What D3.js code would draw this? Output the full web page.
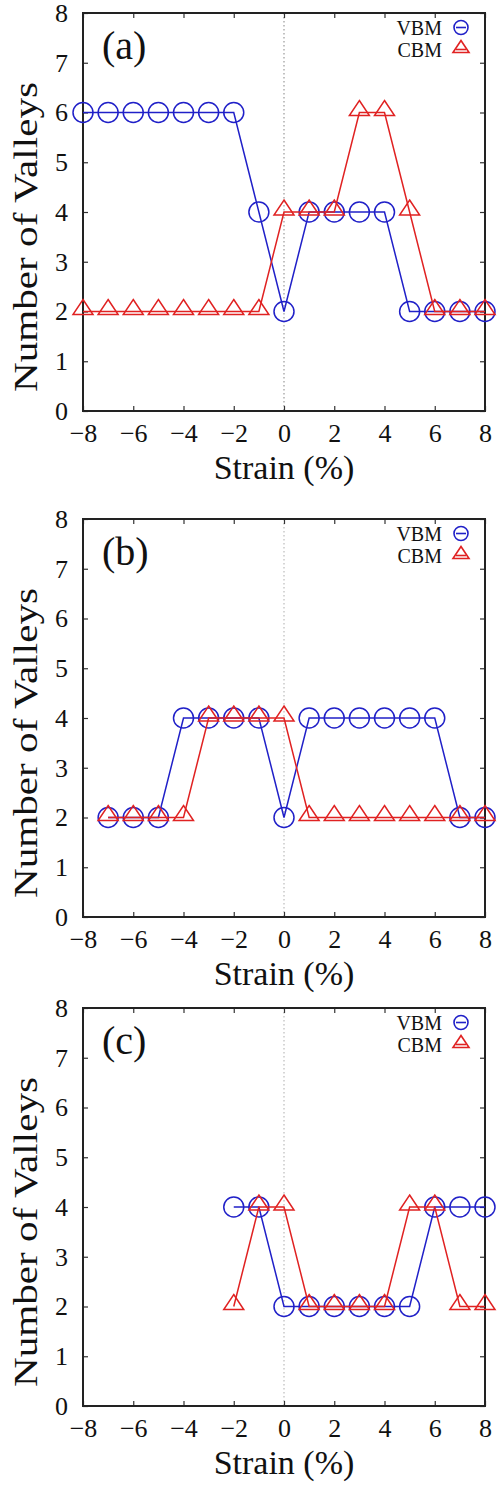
<!DOCTYPE html>
<html>
<head>
<meta charset="utf-8">
<script src="https://cdn.jsdelivr.net/npm/d3@7"></script>
<style>
  body { margin: 0; background: #fff; }
  svg text { fill: #111; }
</style>
</head>
<body>
<svg id="chart" width="498" height="1489"></svg>
<script>
// strain values (%) and number of valleys for each panel
const strainA = [-8, -7, -6, -5, -4, -3, -2, -1, 0, 1, 2, 3, 4, 5, 6, 7, 8];
const vbmA = [6, 6, 6, 6, 6, 6, 6, 4, 2, 4, 4, 4, 4, 2, 2, 2, 2];
const cbmA = [2, 2, 2, 2, 2, 2, 2, 2, 4, 4, 4, 6, 6, 4, 2, 2, 2];

const strainB = [-7, -6, -5, -4, -3, -2, -1, 0, 1, 2, 3, 4, 5, 6, 7, 8];
const vbmB = [2, 2, 2, 4, 4, 4, 4, 2, 4, 4, 4, 4, 4, 4, 2, 2];
const cbmB = [2, 2, 2, 2, 4, 4, 4, 4, 2, 2, 2, 2, 2, 2, 2, 2];

const strainC = [-2, -1, 0, 1, 2, 3, 4, 5, 6, 7, 8];
const vbmC = [4, 4, 2, 2, 2, 2, 2, 2, 4, 4, 4];
const cbmC = [2, 4, 4, 2, 2, 2, 2, 4, 4, 2, 2];

const xTicks = [-8, -6, -4, -2, 0, 2, 4, 6, 8];
const yTicks = [0, 1, 2, 3, 4, 5, 6, 7, 8];
const panelLabels = ["(a)", "(b)", "(c)"];
const seriesNames = ["VBM", "CBM"];

const blue = "#2020c8";
const red = "#e02222";
const serif = "Tinos, 'Liberation Serif', 'Times New Roman', serif";

const svg = d3.select("#chart");

const left = 83, right = 485;
const panelTops = [13, 519, 1008];
const panelH = 398;

const panels = [
  { x: strainA, vbm: vbmA, cbm: cbmA },
  { x: strainB, vbm: vbmB, cbm: cbmB },
  { x: strainC, vbm: vbmC, cbm: cbmC }
];

const x = d3.scaleLinear().domain([-8, 8]).range([left, right]);

// triangle a bit higher than the point, like gnuplot's point type
const triPath = (s) => `M0,${-s}L${s},${s * 0.5}L${-s},${s * 0.5}Z`;

panels.forEach((p, i) => {
  const top = panelTops[i];
  const bottom = top + panelH;
  const y = d3.scaleLinear().domain([0, 8]).range([bottom, top]);
  const g = svg.append("g");

  // dotted line at zero strain
  g.append("line")
    .attr("x1", x(0)).attr("x2", x(0))
    .attr("y1", top).attr("y2", bottom)
    .attr("stroke", i === 0 ? "#999" : "#bbb")
    .attr("stroke-width", 1.2)
    .attr("stroke-dasharray", "1.5,2.5");

  // axes with inward ticks
  const bottomAxis = g.append("g")
    .attr("transform", `translate(0,${bottom})`)
    .call(d3.axisBottom(x).tickValues(xTicks).tickSize(-5).tickPadding(12.5));
  const topAxis = g.append("g")
    .attr("transform", `translate(0,${top})`)
    .call(d3.axisTop(x).tickValues(xTicks).tickSize(-5).tickFormat(""));
  const leftAxis = g.append("g")
    .attr("transform", `translate(${left},0)`)
    .call(d3.axisLeft(y).tickValues(yTicks).tickSize(-5).tickPadding(15));
  const rightAxis = g.append("g")
    .attr("transform", `translate(${right},0)`)
    .call(d3.axisRight(y).tickValues(yTicks).tickSize(-5).tickFormat(""));

  [bottomAxis, topAxis, leftAxis, rightAxis].forEach(a => {
    a.select(".domain").remove();
    a.selectAll("line").attr("stroke", "#333").attr("stroke-width", 1.2);
    a.selectAll("text")
      .style("font-family", serif)
      .style("font-size", "26px")
      .attr("fill", "#111");
  });

  // frame
  g.append("rect")
    .attr("x", left).attr("y", top)
    .attr("width", right - left).attr("height", panelH)
    .attr("fill", "none")
    .attr("stroke", "#222")
    .attr("stroke-width", 2);

  // series
  const line = d3.line().x(d => x(d[0])).y(d => y(d[1]));
  const vbmPts = p.x.map((v, k) => [v, p.vbm[k]]);
  const cbmPts = p.x.map((v, k) => [v, p.cbm[k]]);

  g.append("path").datum(vbmPts)
    .attr("d", line).attr("fill", "none")
    .attr("stroke", blue).attr("stroke-width", 1.5);
  g.selectAll("circle.vbm").data(vbmPts).enter().append("circle")
    .attr("class", "vbm")
    .attr("cx", d => x(d[0])).attr("cy", d => y(d[1]))
    .attr("r", 10)
    .attr("fill", "none").attr("stroke", blue).attr("stroke-width", 1.5);

  g.append("path").datum(cbmPts)
    .attr("d", line).attr("fill", "none")
    .attr("stroke", red).attr("stroke-width", 1.5);
  g.selectAll("path.cbm").data(cbmPts).enter().append("path")
    .attr("class", "cbm")
    .attr("transform", d => `translate(${x(d[0])},${y(d[1]) - 2})`)
    .attr("d", triPath(10))
    .attr("fill", "none").attr("stroke", red).attr("stroke-width", 1.5);

  // panel label
  g.append("text")
    .attr("x", left + 19).attr("y", top + 46)
    .style("font-family", serif).style("font-size", "40px")
    .text(panelLabels[i]);

  // legend
  const lg = g.append("g");
  seriesNames.forEach((name, k) => {
    const ly = top + 14.5 + k * 22;
    lg.append("text")
      .attr("x", right - 43).attr("y", ly + 7)
      .attr("text-anchor", "end")
      .style("font-family", serif).style("font-size", "20px")
      .text(name);
    lg.append("line")
      .attr("x1", right - 29).attr("x2", right - 19)
      .attr("y1", ly).attr("y2", ly)
      .attr("stroke", k === 0 ? blue : red).attr("stroke-width", 1.6);
    if (k === 0) {
      lg.append("circle")
        .attr("cx", right - 24).attr("cy", ly).attr("r", 7)
        .attr("fill", "none").attr("stroke", blue).attr("stroke-width", 1.6);
    } else {
      lg.append("path")
        .attr("transform", `translate(${right - 24},${ly - 1})`)
        .attr("d", triPath(8))
        .attr("fill", "none").attr("stroke", red).attr("stroke-width", 1.6);
    }
  });

  // axis titles
  g.append("text")
    .attr("x", (left + right) / 2).attr("y", bottom + 68)
    .attr("text-anchor", "middle")
    .style("font-family", serif).style("font-size", "34px")
    .text("Strain (%)");

  g.append("text")
    .attr("transform", `translate(37,${top + 224}) rotate(-90)`)
    .attr("text-anchor", "middle")
    .style("font-family", serif).style("font-size", "34px")
    .attr("textLength", 310)
    .attr("lengthAdjust", "spacingAndGlyphs")
    .text("Number of Valleys");
});
</script>
</body>
</html>
